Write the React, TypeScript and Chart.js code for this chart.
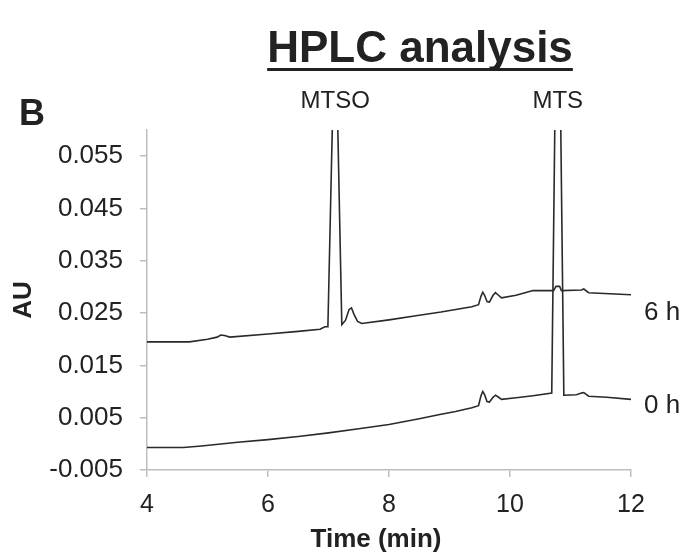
import React, { useEffect, useRef } from "react";
import { Chart, registerables } from "chart.js";

Chart.register(...registerables);

// Retention times (min) and absorbance (AU) for the 0 h trace
const timesZero = [4.0, 4.6, 4.9, 5.5, 6.0, 6.5, 7.0, 7.5, 8.0, 8.5, 8.84, 9.1, 9.37, 9.48, 9.52, 9.55, 9.58, 9.62, 9.66, 9.72, 9.76, 9.8, 9.86, 10.1, 10.38, 10.69, 10.79, 10.89, 11.1, 11.18, 11.22, 11.3, 11.6, 12.0];
const valuesZero = [-0.0007, -0.0007, -0.0004, 0.0003, 0.0008, 0.0014, 0.0021, 0.0029, 0.0037, 0.0048, 0.0056, 0.0062, 0.0069, 0.0073, 0.0092, 0.01, 0.0094, 0.0081, 0.008, 0.0089, 0.0093, 0.009, 0.0085, 0.0088, 0.0092, 0.0097, 0.11, 0.0093, 0.0094, 0.0097, 0.0098, 0.0091, 0.0089, 0.0085];

// Retention times (min) and absorbance (AU) for the 6 h trace
const timesSix = [4.0, 4.7, 5.0, 5.16, 5.22, 5.28, 5.37, 6.0, 6.5, 6.86, 6.94, 6.99, 7.11, 7.22, 7.28, 7.34, 7.38, 7.42, 7.48, 7.55, 8.0, 8.5, 8.86, 9.37, 9.48, 9.52, 9.55, 9.58, 9.62, 9.66, 9.72, 9.76, 9.8, 9.86, 10.1, 10.38, 10.72, 10.76, 10.82, 10.85, 11.18, 11.22, 11.3, 12.0];
const valuesSix = [0.0195, 0.0195, 0.02, 0.0204, 0.0208, 0.0207, 0.0204, 0.021, 0.0215, 0.0219, 0.0224, 0.0224, 0.085, 0.0228, 0.0236, 0.0257, 0.026, 0.0248, 0.0234, 0.023, 0.0237, 0.0246, 0.0252, 0.0262, 0.0266, 0.0282, 0.029, 0.0284, 0.0272, 0.0271, 0.0284, 0.0289, 0.0285, 0.0279, 0.0284, 0.0293, 0.0293, 0.0301, 0.0301, 0.0293, 0.0294, 0.0296, 0.0289, 0.0285];

const yTickValues = [-0.005, 0.005, 0.015, 0.025, 0.035, 0.045, 0.055];
const xTickValues = [4, 6, 8, 10, 12];

const chartTitle = "HPLC analysis";
const panelLetter = "B";
const peakLabels = [
  { text: "MTSO", time: 7.11 },
  { text: "MTS", time: 10.79 },
];
const traceLabels = [
  { text: "6 h", value: 0.025 },
  { text: "0 h", value: 0.0072 },
];
const xTitle = "Time (min)";
const yTitle = "AU";

const FONT = "'Liberation Sans', Arial, Helvetica, sans-serif";
const LINE = "#2a2a2a";
const AXIS = "#bdbdbd";
const TEXT = "#222222";

const textPlugin = {
  id: "hplcText",
  afterDraw(chart: any) {
    const ctx = chart.ctx as CanvasRenderingContext2D;
    const xs = chart.scales.x;
    const ys = chart.scales.y;
    const area = chart.chartArea;
    ctx.save();
    ctx.fillStyle = TEXT;
    // title
    ctx.font = `bold 44px ${FONT}`;
    ctx.textAlign = "center";
    ctx.textBaseline = "alphabetic";
    const tx = 420;
    const tb = 62;
    ctx.fillText(chartTitle, tx, tb);
    const tw = ctx.measureText(chartTitle).width;
    ctx.fillRect(tx - tw / 2, tb + 6, tw, 3);
    // panel letter
    ctx.font = `bold 36px ${FONT}`;
    ctx.textAlign = "left";
    ctx.fillText(panelLetter, 19, 125);
    // peak labels
    ctx.font = `24px ${FONT}`;
    ctx.textAlign = "center";
    peakLabels.forEach((p) => {
      ctx.fillText(p.text, xs.getPixelForValue(p.time), 108);
    });
    // trace labels
    ctx.font = `26px ${FONT}`;
    ctx.textAlign = "left";
    ctx.textBaseline = "middle";
    traceLabels.forEach((t) => {
      ctx.fillText(t.text, area.right + 13, ys.getPixelForValue(t.value));
    });
    // axis titles
    ctx.font = `bold 26px ${FONT}`;
    ctx.textAlign = "center";
    ctx.fillText(xTitle, 376, 540);
    ctx.save();
    ctx.translate(24, (area.top + area.bottom) / 2);
    ctx.rotate(-Math.PI / 2);
    ctx.fillText(yTitle, 0, 0);
    ctx.restore();
    ctx.restore();
  },
};

export default function App() {
  const ref = useRef<HTMLCanvasElement>(null);
  useEffect(() => {
    if (!ref.current) return;
    const chart = new Chart(ref.current, {
      type: "line",
      data: {
        datasets: [
          {
            label: "0 h",
            data: timesZero.map((t, i) => ({ x: t, y: valuesZero[i] })),
            borderColor: LINE,
            borderWidth: 1.6,
            pointRadius: 0,
            tension: 0,
            fill: false,
            clip: 0,
          },
          {
            label: "6 h",
            data: timesSix.map((t, i) => ({ x: t, y: valuesSix[i] })),
            borderColor: LINE,
            borderWidth: 1.6,
            pointRadius: 0,
            tension: 0,
            fill: false,
            clip: 0,
          },
        ],
      },
      options: {
        responsive: false,
        animation: false,
        layout: { padding: { left: 0, top: 130, right: 66, bottom: 0 } },
        plugins: {
          legend: { display: false },
          tooltip: { enabled: false },
          title: { display: false },
        },
        scales: {
          x: {
            type: "linear",
            min: 4,
            max: 12,
            afterBuildTicks: (s: any) => {
              s.ticks = xTickValues.map((v) => ({ value: v }));
            },
            afterFit: (s: any) => {
              s.height = 84;
            },
            border: { display: true, color: AXIS, width: 1.5 },
            grid: { drawOnChartArea: false, color: AXIS, tickLength: 7, lineWidth: 1.5 },
            ticks: {
              font: { family: FONT, size: 25 },
              color: TEXT,
              padding: 13,
              maxRotation: 0,
              callback: (v: any) => String(v),
            },
          },
          y: {
            type: "linear",
            min: -0.005,
            max: 0.06,
            afterBuildTicks: (s: any) => {
              s.ticks = yTickValues.map((v) => ({ value: v }));
            },
            afterFit: (s: any) => {
              s.width = 147;
            },
            border: { display: true, color: AXIS, width: 1.5 },
            grid: { drawOnChartArea: false, color: AXIS, tickLength: 7, lineWidth: 1.5 },
            ticks: {
              font: { family: FONT, size: 26 },
              color: TEXT,
              padding: 17,
              callback: (v: any) => Number(v).toFixed(3),
            },
          },
        },
      },
      plugins: [textPlugin],
    });
    return () => chart.destroy();
  }, []);
  return (
    <div style={{ position: "fixed", left: 0, top: 0, width: 697, height: 554, background: "#fff" }}>
      <canvas ref={ref} width={697} height={554} style={{ width: 697, height: 554, display: "block" }} />
    </div>
  );
}
